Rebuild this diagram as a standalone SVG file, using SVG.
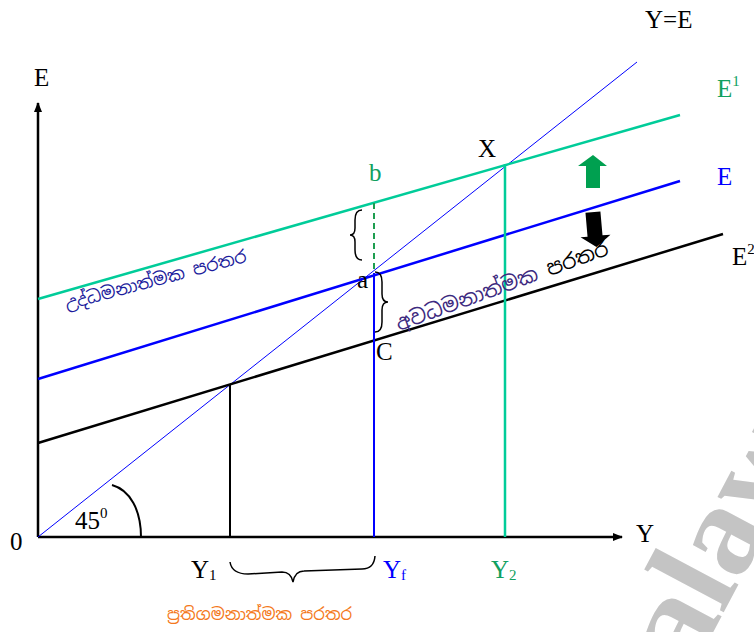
<svg xmlns="http://www.w3.org/2000/svg" width="754" height="632" viewBox="0 0 754 632">
<defs>
<marker id="ah" markerWidth="10" markerHeight="10" refX="9" refY="5" orient="auto" markerUnits="userSpaceOnUse">
<path d="M0,1 L10,5 L0,9 Z" fill="#000"/>
</marker>
<style>
.t{font-family:"Liberation Serif","Times New Roman",serif;font-size:25px;fill:#000}
.sup{font-size:15px}
.si{font-family:"Noto Sans Sinhala","Iskoola Pota","Noto Sans",sans-serif}
.ax{stroke:#000;stroke-width:2.5;fill:none}
.ln{fill:none;stroke-width:2.5}
</style>
</defs>
<rect width="754" height="632" fill="#fff"/>

<!-- watermark -->
<text x="692" y="672" transform="rotate(-62 692 672)" font-family="Liberation Serif,serif" font-weight="bold" font-size="130" fill="#c4c4c4">alaw</text>

<g id="connectors">
<line class="ax" x1="38" y1="537" x2="38" y2="103" marker-end="url(#ah)"/>
<line class="ax" x1="38" y1="537" x2="622" y2="537" marker-end="url(#ah)"/>
<line x1="38" y1="537" x2="637" y2="62" stroke="#0000ff" stroke-width="1"/>
<line class="ln" x1="38" y1="299" x2="680" y2="115" stroke="#00cc99"/>
<line class="ln" x1="38" y1="379" x2="680" y2="181" stroke="#0000ff"/>
<line class="ln" x1="38" y1="443" x2="723" y2="234" stroke="#000"/>
<line x1="230" y1="385" x2="230" y2="537" stroke="#000" stroke-width="2"/>
<line x1="374" y1="273" x2="374" y2="537" stroke="#0000ff" stroke-width="2"/>
<line x1="374" y1="203" x2="374" y2="273" stroke="#1e9e50" stroke-width="2" stroke-dasharray="6,4"/>
<line x1="505" y1="164" x2="505" y2="537" stroke="#00cc99" stroke-width="2.5"/>
<path d="M112,485 C130,490 141,510 141,537" fill="none" stroke="#000" stroke-width="2"/>
<path d="M362,210 Q355,210 355,220 L355,228 Q355,235 350,235 Q355,235 355,242 L355,250 Q355,260 362,260" fill="none" stroke="#000" stroke-width="1.5"/>
<path d="M375,272 Q382,272 382,282 L382,294 Q382,302 388,302 Q382,302 382,310 L382,322 Q382,332 375,332" fill="none" stroke="#000" stroke-width="1.5"/>
<path d="M230,562 Q232,574 248,574 L282,572 Q291,572 293,582 Q295,571 304,571 L362,569 Q374,569 375,556" fill="none" stroke="#000" stroke-width="1.5"/>
</g>

<g id="arrow-up">
<path d="M586,188 L586,166 L578,166 L593,155 L607,166 L600,166 L600,188 Z" fill="#00a050"/>
</g>
<g id="arrow-down" transform="rotate(-5 595 230)">
<path d="M587,212 L602,212 L602,236 L610,236 L595,247 L580,236 L587,236 Z" fill="#000"/>
</g>

<g id="axis-labels">
<text class="t" x="34" y="86">E</text>
<text class="t" x="636" y="542">Y</text>
<text class="t" x="10" y="550">0</text>
<text class="t" x="645" y="28">Y=E</text>
</g>

<g id="curve-labels">
<text class="t" x="717" y="97" style="fill:#10a060">E<tspan class="sup" dy="-11">1</tspan></text>
<text class="t" x="717" y="185" style="fill:#0000ff">E</text>
<text class="t" x="732" y="265">E<tspan class="sup" dy="-11">2</tspan></text>
</g>

<g id="points">
<text class="t" x="478" y="157">X</text>
<text class="t" x="369" y="181" style="fill:#10a060">b</text>
<text class="t" x="357" y="288">a</text>
<text class="t" x="376" y="360">C</text>
</g>

<g id="x-labels">
<text class="t" x="191" y="578">Y<tspan class="sup" dy="2">1</tspan></text>
<text class="t" x="383" y="578" style="fill:#0000ff">Y<tspan class="sup" dy="2">f</tspan></text>
<text class="t" x="491" y="578" style="fill:#10a060">Y<tspan class="sup" dy="2">2</tspan></text>
<text class="t" x="75" y="529">45<tspan class="sup" dy="-11">0</tspan></text>
</g>

<g id="gap-labels">
<text class="si" x="67" y="310" font-size="17.5" fill="#1c1c9c" transform="rotate(-15 67 310)">උද්ධමනාත්මක පරතර</text>
<text class="si" x="399" y="331" font-size="20.5" fill="#3d2a80" transform="rotate(-20 399 331)">අවධමනාත්මක<tspan fill="#000"> පරතර</tspan></text>
<text class="si" x="167" y="620" font-size="16.5" fill="#f47920">ප්‍රතිගමනාත්මක පරතර</text>
</g>
</svg>
